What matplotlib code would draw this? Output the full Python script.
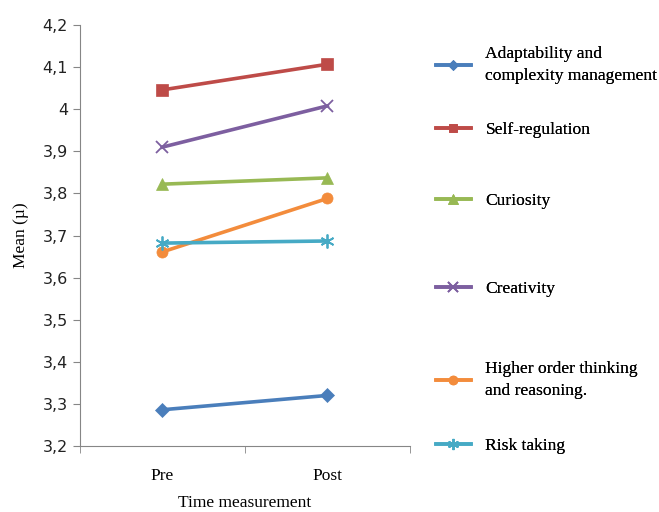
import matplotlib.pyplot as plt
from matplotlib.ticker import FuncFormatter

times = ['Pre', 'Post']
labels = ['Adaptability and\ncomplexity management', 'Self-regulation', 'Curiosity',
          'Creativity', 'Higher order thinking\nand reasoning.', 'Risk taking']
adaptability = [3.286, 3.320]
self_regulation = [4.046, 4.107]
curiosity = [3.822, 3.837]
creativity = [3.910, 4.008]
higher_order = [3.661, 3.788]
risk_taking = [3.682, 3.687]

series = [adaptability, self_regulation, curiosity, creativity, higher_order, risk_taking]
colors = ['#4A7EBB', '#BE4B48', '#98B954', '#7D5FA0', '#F38C3C', '#46AAC5']
markers = ['D', 's', '^', 'x', 'o', (6, 2, 0)]
sizes = [7, 8, 9, 9, 8, 10]

serif = 'Liberation Serif'
fig = plt.figure(figsize=(6.59, 5.12), dpi=100)
ax = fig.add_axes([0.121, 0.129, 0.501, 0.822])

lines = []
for vals, c, m, s in zip(series, colors, markers, sizes):
    ln, = ax.plot(times, vals, color=c, lw=2.6, marker=m, markersize=s,
                  markeredgewidth=1.3 if m in ('x', (6, 2, 0)) else 0.5, markeredgecolor=c)
    lines.append(ln)

ax.set_xlim(-0.5, 1.5)
ax.set_ylim(3.2, 4.2)
ax.set_yticks([3.2 + 0.1 * i for i in range(11)])


def comma_fmt(v, pos):
    if abs(v - 4) < 1e-6:
        return '4'
    return f'{v:.1f}'.replace('.', ',')


ax.yaxis.set_major_formatter(FuncFormatter(comma_fmt))
ax.set_xticks([-0.5, 0.5, 1.5], minor=True)
ax.tick_params(axis='x', which='major', length=0, pad=16, labelsize=12.5)
ax.tick_params(axis='x', which='minor', length=5, color='#868686', direction='out')
ax.tick_params(axis='y', length=5, color='#868686', labelsize=11.5, labelcolor='#222222')
for lab in ax.get_xticklabels():
    lab.set_fontfamily(serif)

for side in ['top', 'right']:
    ax.spines[side].set_visible(False)
for side in ['left', 'bottom']:
    ax.spines[side].set_color('#868686')

ax.set_ylabel('Mean (µ)', fontfamily=serif, fontsize=12.5, labelpad=10)
ax.set_xlabel('Time measurement', fontfamily=serif, fontsize=12.5, labelpad=8)

# one legend entry per slot, spaced like the original
legend_y = [0.873, 0.746, 0.607, 0.436, 0.258, 0.129]
for ln, lab, y in zip(lines, labels, legend_y):
    leg = fig.legend([ln], [lab], loc='center left', bbox_to_anchor=(0.637, y),
                     frameon=False, handlelength=2.0, handletextpad=0.85,
                     markerscale=0.8, prop={'family': serif, 'size': 12.6})
    for t in leg.get_texts():
        t.set_linespacing(1.45)
    fig.add_artist(leg)

fig.savefig('out.png', dpi=100)
